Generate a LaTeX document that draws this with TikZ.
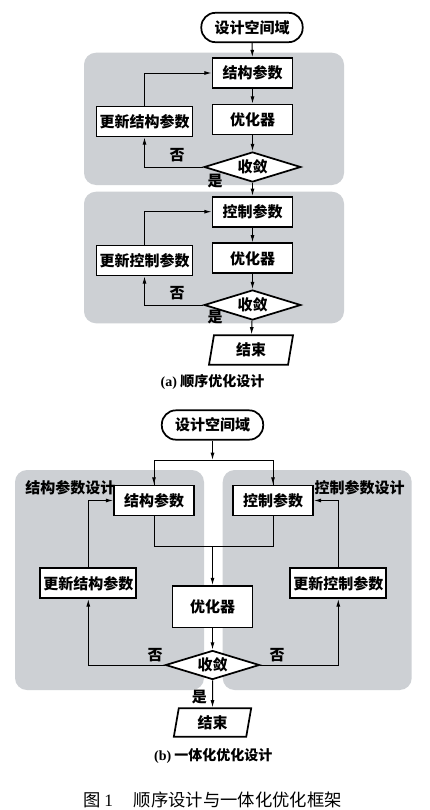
\documentclass[tikz,border=0pt]{standalone}
\usepackage{fontspec}
\setmainfont{Liberation Serif}
\newfontfamily\cjk{Noto Sans CJK SC}
\usetikzlibrary{shapes.geometric,arrows.meta}
\definecolor{panelgray}{RGB}{205,208,212}
\begin{document}
\begin{tikzpicture}[x=0.75pt,y=-0.75pt,
  txt/.style={font=\cjk\bfseries\fontsize{11.25}{13}\selectfont},
  box/.style={txt,draw,line width=1.3pt,fill=white,inner sep=0pt,minimum height=22.5pt,minimum width=60pt},
  ubox/.style={box,minimum width=72pt},
  stadium/.style={box,rounded corners=10.5pt,minimum width=76pt,minimum height=22pt},
  dia/.style={txt,diamond,draw,line width=1.3pt,fill=white,aspect=3,inner sep=0pt,minimum width=72.5pt,minimum height=22.5pt},
  term/.style={txt,trapezium,trapezium left angle=71,trapezium right angle=109,trapezium stretches body,draw,line width=1.3pt,fill=white,inner sep=0pt,minimum width=63pt,minimum height=22pt},
  panel/.style={fill=panelgray,rounded corners=9pt},
  conn/.style={line width=0.75pt},
  arr/.style={conn,-{Latex[length=5.5pt,width=3pt]}},
  lbl/.style={txt,inner sep=0pt},
  capt/.style={font=\cjk\bfseries\fontsize{10.5}{12}\selectfont,inner sep=0pt}
]
\useasboundingbox (0,0) rectangle (429,810);
\fill[white] (0,0) rectangle (429,810);

% ---------- (a) ----------
\fill[panel] (84,52.7) rectangle (344,185);
\fill[panel] (84,191.7) rectangle (344,323.3);

\node[stadium] (top1) at (252,27.5) {设计空间域};
\node[box] (s1) at (252.5,73) {结构参数};
\node[box] (o1) at (252.5,119.5) {优化器};
\node[ubox] (u1) at (144.5,121.5) {更新结构参数};
\node[dia] (d1) at (252.5,167) {收敛};

\node[box] (s2) at (252.5,211.7) {控制参数};
\node[box] (o2) at (252.5,258.3) {优化器};
\node[ubox] (u2) at (144.5,260.5) {更新控制参数};
\node[dia] (d2) at (252.5,305) {收敛};
\node[term] (e1) at (251,350) {结束};

\draw[arr] (top1) -- (s1);
\draw[arr] (s1) -- (o1);
\draw[arr] (o1) -- (d1);
\draw[arr] (d1) -- (s2);
\draw[arr] (d1.west) -| (u1.south);
\draw[arr] (u1.north) |- (s1.west);
\draw[arr] (s2) -- (o2);
\draw[arr] (o2) -- (d2);
\draw[arr] (d2) -- (e1);
\draw[arr] (d2.west) -| (u2.south);
\draw[arr] (u2.north) |- (s2.west);

\node[lbl] (n1) at (177,155) {否};
\node[lbl] (y1) at (215,181) {是};
\node[lbl] (n2) at (177,293.3) {否};
\node[lbl] (y2) at (215,316.7) {是};

\node[capt] (capa) at (212.5,382) {{\rmfamily (a)} 顺序优化设计};

% ---------- (b) ----------
\fill[panel] (15,470) rectangle (204,690);
\fill[panel] (222.7,470) rectangle (411.7,690);

\node[stadium] (top2) at (212.5,425) {设计空间域};
\coordinate (j1) at (212.5,460);
\node[box] (s3) at (154,500.5) {结构参数};
\node[box] (s4) at (273,500.5) {控制参数};
\node[lbl,anchor=west] (ls) at (25,487.3) {结构参数设计};
\node[lbl,anchor=east] (lc) at (405,487.3) {控制参数设计};
\coordinate (j2) at (212.5,546.7);
\node[box,minimum height=31pt] (o3) at (212.5,606.7) {优化器};
\node[ubox] (u3) at (88.3,583.3) {更新结构参数};
\node[ubox] (u4) at (338.3,583.3) {更新控制参数};
\node[dia,minimum width=70.5pt,minimum height=21.75pt] (d3) at (212.5,665) {收敛};
\node[term,minimum width=58pt,minimum height=21.3pt] (e2) at (212.5,722.5) {结束};

\draw[arr] (top2) -- (j1);
\draw[conn] (j1) -| (s3.north) (j1) -| (s4.north);
\draw[arr] (j1 -| s3.north) -- (s3.north);
\draw[arr] (j1 -| s4.north) -- (s4.north);
\draw[conn] (s3.south) |- (j2) -| (s4.south);
\draw[arr] (j2) -- (o3.north);
\draw[arr] (o3) -- (d3);
\draw[arr] (d3) -- (e2);
\draw[arr] (d3.west) -| (u3.south);
\draw[arr] (d3.east) -| (u4.south);
\draw[arr] (u3.north) |- (s3.west);
\draw[arr] (u4.north) |- (s4.east);

\node[lbl] (n3) at (155,655) {否};
\node[lbl] (n4) at (277,655) {否};
\node[lbl] (y3) at (199.3,697.3) {是};

\node[capt] (capb) at (213.3,755.5) {{\rmfamily (b)} 一体化优化设计};

\node[font=\cjk\fontsize{13}{15}\selectfont,inner sep=0pt] (fig) at (212.5,800) {图 {\rmfamily 1}\hspace{1.2em}顺序设计与一体化优化框架};
\end{tikzpicture}
\end{document}
